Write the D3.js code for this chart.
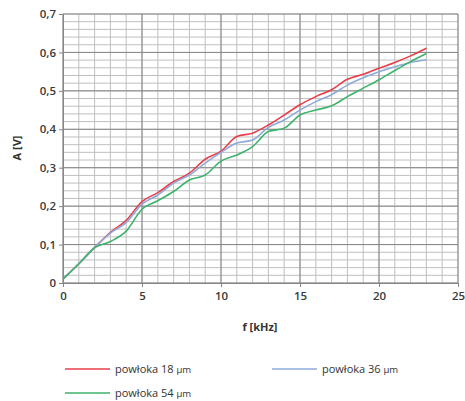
<!DOCTYPE html>
<html>
<head>
<meta charset="utf-8">
<script src="https://cdn.jsdelivr.net/npm/d3@7/dist/d3.min.js"></script>
<style>
  body { margin: 0; background: #fff; }
  svg { display: block; font-family: "Open Sans", "Liberation Sans", sans-serif; }
</style>
</head>
<body>
<svg id="chart" width="465" height="401"></svg>
<script>
// frequency in kHz
const freq = [0, 1, 2, 3, 4, 5, 6, 7, 8, 9, 10, 11, 12, 13, 14, 15, 16, 17, 18, 19, 20, 21, 22, 23];

// amplitude A [V] for each coating thickness
const coat18 = [0.01, 0.05, 0.092, 0.132, 0.163, 0.212, 0.235, 0.264, 0.286, 0.322, 0.343, 0.381, 0.39, 0.411, 0.437, 0.464, 0.485, 0.503, 0.53, 0.543, 0.559, 0.574, 0.591, 0.611];
const coat36 = [0.01, 0.05, 0.092, 0.13, 0.157, 0.205, 0.229, 0.26, 0.281, 0.312, 0.34, 0.364, 0.372, 0.405, 0.424, 0.45, 0.472, 0.49, 0.515, 0.534, 0.55, 0.563, 0.574, 0.581];
const coat54 = [0.01, 0.05, 0.092, 0.108, 0.135, 0.192, 0.214, 0.238, 0.268, 0.281, 0.317, 0.333, 0.355, 0.394, 0.403, 0.437, 0.45, 0.461, 0.485, 0.507, 0.529, 0.553, 0.576, 0.597];

const seriesNames = ["powłoka 18 ", "powłoka 36 ", "powłoka 54 "];
const seriesColors = ["#e8404a", "#8eaadb", "#3db36b"];
const xTicks = [0, 5, 10, 15, 20, 25];
const yTicks = [0, 0.1, 0.2, 0.3, 0.4, 0.5, 0.6, 0.7];

const series = [coat18, coat36, coat54].map((vals, i) => ({
  name: seriesNames[i],
  color: seriesColors[i],
  values: vals.map((v, j) => ({ f: freq[j], a: v }))
}));

const svg = d3.select("#chart");
const plot = { left: 63, right: 458, top: 14, bottom: 283 };

const x = d3.scaleLinear().domain([0, 25]).range([plot.left, plot.right]);
const y = d3.scaleLinear().domain([0, 0.7]).range([plot.bottom, plot.top]);

// minor gridlines
const grid = svg.append("g");
grid.selectAll("line.vminor")
  .data(d3.range(0, 26, 1))
  .join("line")
  .attr("x1", d => x(d)).attr("x2", d => x(d))
  .attr("y1", plot.top).attr("y2", plot.bottom)
  .attr("stroke", "#bfbfbf").attr("stroke-width", 1);
grid.selectAll("line.hminor")
  .data(d3.range(0, 36).map(i => i * 0.02))
  .join("line")
  .attr("y1", d => y(d)).attr("y2", d => y(d))
  .attr("x1", plot.left).attr("x2", plot.right)
  .attr("stroke", "#bfbfbf").attr("stroke-width", 1);

// major gridlines
grid.append("g").selectAll("line")
  .data(xTicks)
  .join("line")
  .attr("x1", d => x(d)).attr("x2", d => x(d))
  .attr("y1", plot.top).attr("y2", plot.bottom)
  .attr("stroke", "#868686").attr("stroke-width", 1);
grid.append("g").selectAll("line")
  .data(yTicks)
  .join("line")
  .attr("y1", d => y(d)).attr("y2", d => y(d))
  .attr("x1", plot.left).attr("x2", plot.right)
  .attr("stroke", "#868686").attr("stroke-width", 1);

// axes labels
const fmt = d => d3.format(".1~f")(d).replace(".", ",");
svg.append("g")
  .attr("transform", `translate(${plot.left},0)`)
  .call(d3.axisLeft(y).tickValues(yTicks).tickFormat(d => d === 0 ? "0" : fmt(d)).tickSize(4))
  .call(g => g.select(".domain").attr("stroke", "#868686"))
  .call(g => g.selectAll(".tick line").attr("stroke", "#868686"))
  .call(g => g.selectAll("text").attr("fill", "#3a3a3a").attr("font-size", 11.5)
    .attr("font-weight", 600).attr("font-family", "Open Sans, sans-serif"));

svg.append("g")
  .attr("transform", `translate(0,${plot.bottom})`)
  .call(d3.axisBottom(x).tickValues(xTicks).tickFormat(d3.format("d")).tickSize(4))
  .call(g => g.select(".domain").attr("stroke", "#868686"))
  .call(g => g.selectAll(".tick line").attr("stroke", "#868686"))
  .call(g => g.selectAll("text").attr("fill", "#3a3a3a").attr("font-size", 11.5)
    .attr("font-weight", 600).attr("font-family", "Open Sans, sans-serif").attr("dy", "0.9em"));

// lines
const line = d3.line().x(d => x(d.f)).y(d => y(d.a)).curve(d3.curveMonotoneX);
svg.append("g").selectAll("path")
  .data(series)
  .join("path")
  .attr("d", d => line(d.values))
  .attr("fill", "none")
  .attr("stroke", d => d.color)
  .attr("stroke-width", 1.6);

// axis titles
svg.append("text")
  .attr("transform", "translate(21,148) rotate(-90)")
  .attr("text-anchor", "middle")
  .attr("font-size", 11).attr("font-weight", "bold").attr("fill", "#333")
  .text("A [V]");
svg.append("text")
  .attr("x", 260).attr("y", 331)
  .attr("text-anchor", "middle")
  .attr("font-size", 11).attr("font-weight", "bold").attr("fill", "#333")
  .text("f [kHz]");

// legend
const legendPos = [[65, 369], [272, 369], [65, 393]];
const legend = svg.append("g").selectAll("g")
  .data(series)
  .join("g")
  .attr("transform", (d, i) => `translate(${legendPos[i][0]},${legendPos[i][1]})`);
legend.append("line")
  .attr("x1", 0).attr("x2", 45)
  .attr("stroke", d => d.color).attr("stroke-width", 1.6);
const lt = legend.append("text")
  .attr("x", 50).attr("dy", "0.35em")
  .attr("font-size", 11).attr("fill", "#333");
lt.append("tspan").text(d => d.name);
lt.append("tspan").attr("font-size", 9.5).text("μm");
</script>
</body>
</html>
